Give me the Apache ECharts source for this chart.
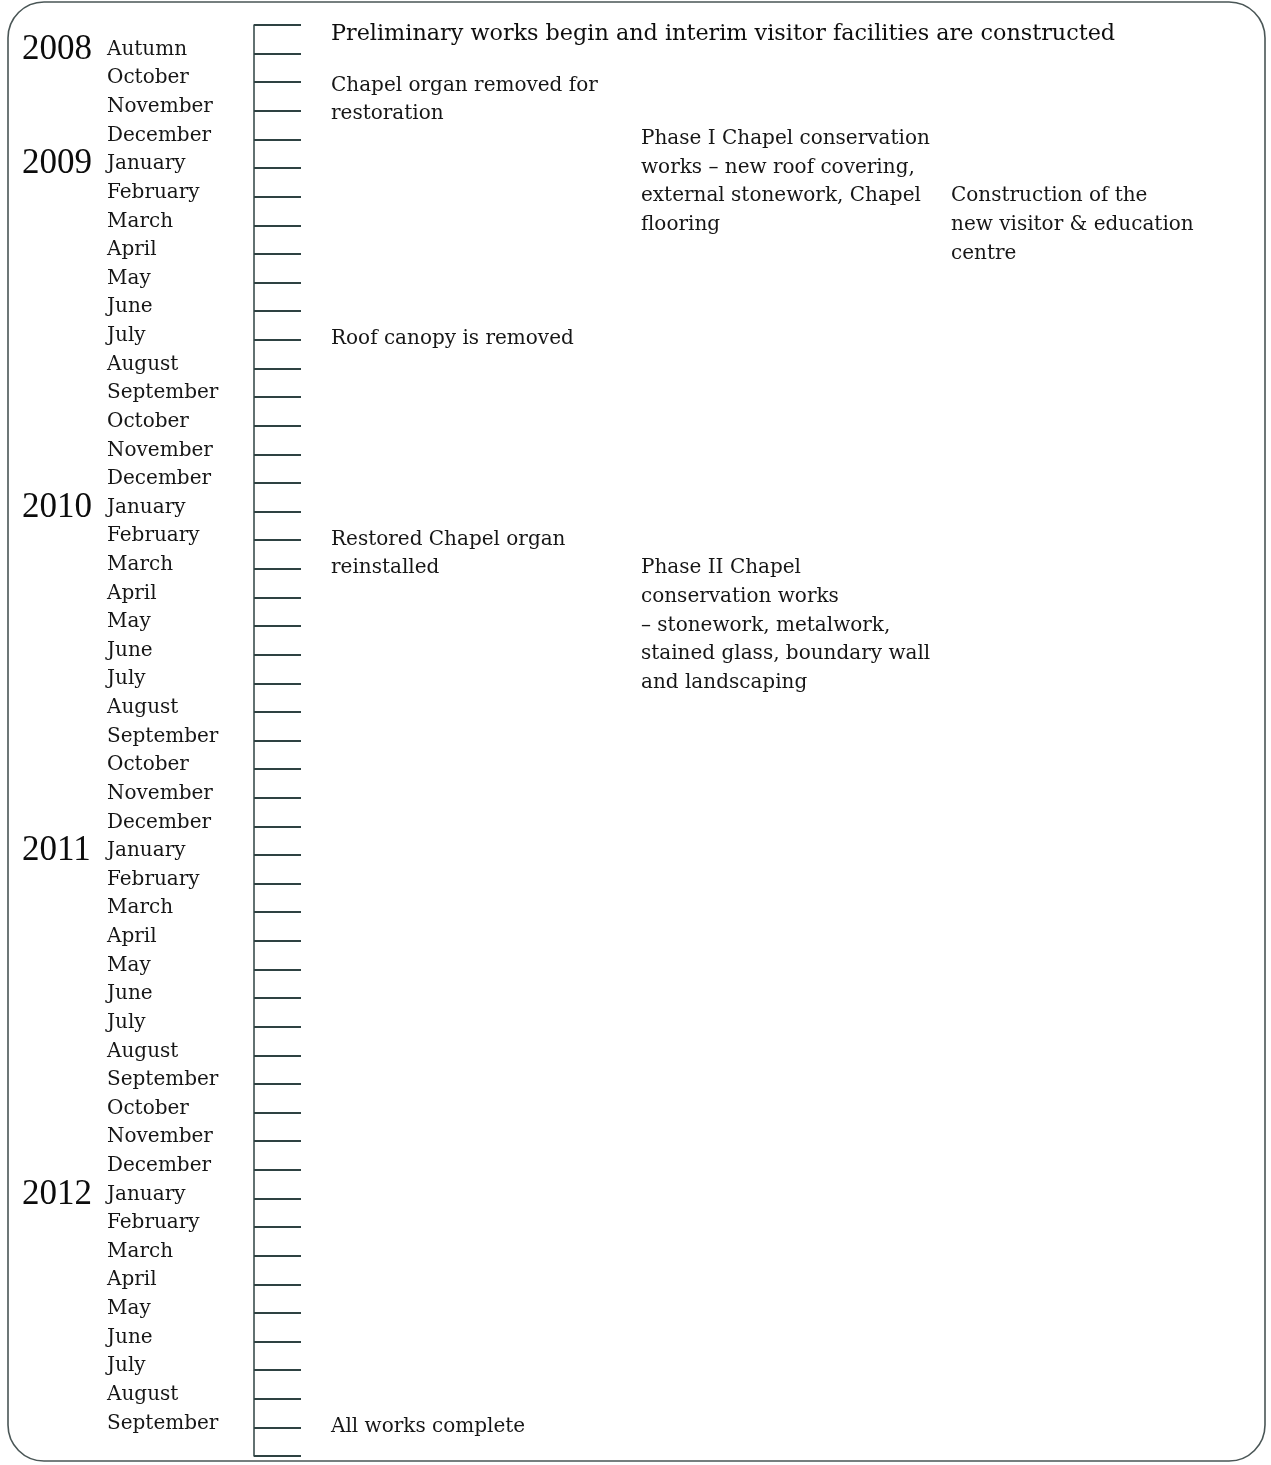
<!DOCTYPE html>
<html>
<head>
<meta charset="utf-8">
<script src="https://cdn.jsdelivr.net/npm/echarts/dist/echarts.min.js"></script>
<style>
html,body{margin:0;padding:0;background:#fff;}
#chart{width:1271px;height:1465px;}
</style>
</head>
<body>
<div id="chart"></div>
<script>
// ---- data ----
const months = [
  'Autumn','October','November','December',
  'January','February','March','April','May','June','July','August','September','October','November','December',
  'January','February','March','April','May','June','July','August','September','October','November','December',
  'January','February','March','April','May','June','July','August','September','October','November','December',
  'January','February','March','April','May','June','July','August','September'
];
const years = ['2008','2009','2010','2011','2012'];

const eventTexts = [
  'Preliminary works begin and interim visitor facilities are constructed',
  'Chapel organ removed for\nrestoration',
  'Phase I Chapel conservation\nworks – new roof covering,\nexternal stonework, Chapel\nflooring',
  'Construction of the\nnew visitor & education\ncentre',
  'Roof canopy is removed',
  'Restored Chapel organ\nreinstalled',
  'Phase II Chapel\nconservation works\n– stonework, metalwork,\nstained glass, boundary wall\nand landscaping',
  'All works complete'
];
const eventYears  = ['2008','2008','2008','2009','2009','2010','2010','2012'];
const eventMonths = ['Autumn','October','December','February','July','February','March','September'];
const eventLanes  = [0,0,1,2,0,0,1,0];

// ---- build row index (a new year starts at each January) ----
const rowYear = [];
(function(){
  let yi = 0;
  months.forEach(function(m, i){
    if (i > 0 && m === 'January') yi++;
    rowYear.push(years[yi]);
  });
})();
const yearLabelRow = {};
rowYear.forEach(function(y, i){ if (!(y in yearLabelRow)) yearLabelRow[y] = i; });
function rowOf(y, m){
  for (let i = 0; i < months.length; i++) if (rowYear[i] === y && months[i] === m) return i;
  return 0;
}

const serif = '"DejaVu Serif", serif';
const textColor = '#161616';
const lineCol = '#2e4242';

const eventData = eventTexts.map(function(t, i){
  const item = { value: [eventLanes[i], rowOf(eventYears[i], eventMonths[i])] };
  if (i === 0) item.label = { position: [77, -34], fontSize: 22.3, color: '#0e0e0e' };
  if (i === 1) item.label = { position: [77, -11] };
  return item;
});

const chart = echarts.init(document.getElementById('chart'), null, {renderer:'canvas'});
chart.setOption({
  animation: false,
  backgroundColor: '#ffffff',
  graphic: [{
    type: 'rect',
    shape: { x: 8, y: 2, width: 1257, height: 1459, r: 36 },
    style: { fill: 'none', stroke: '#4a5656', lineWidth: 1.6 },
    silent: true, z: -1
  }],
  grid: { left: 254, right: 87, top: 25, bottom: 9, containLabel: false },
  xAxis: { type: 'value', min: 0, max: 3, show: false },
  yAxis: {
    type: 'value', inverse: true, min: -1, max: months.length, interval: 1,
    axisLine: { show: true, lineStyle: { color: lineCol, width: 1.5 } },
    axisTick: { show: true, inside: true, length: 47, lineStyle: { color: lineCol, width: 2.2 } },
    splitLine: { show: false },
    axisLabel: {
      show: true, align: 'left', margin: 232, verticalAlign: 'middle',
      padding: [0, 0, 8, 0],
      formatter: function(v){
        if (v < 0 || v >= months.length) return '';
        const y = rowYear[v];
        const yr = (yearLabelRow[y] === v) ? '{y|' + y + '}' : '{e| }';
        return yr + '{m|' + months[v] + '}';
      },
      rich: {
        y: { width: 85, fontFamily: '"Liberation Serif", serif', fontSize: 35, color: '#0c0c0c', verticalAlign: 'middle', lineHeight: 34 },
        e: { width: 85, fontSize: 20, lineHeight: 24 },
        m: { fontFamily: serif, fontSize: 20, color: textColor, verticalAlign: 'middle', lineHeight: 24 }
      }
    }
  },
  series: [{
    type: 'scatter',
    symbolSize: 0,
    silent: true,
    itemStyle: { opacity: 1 },
    data: eventData,
    label: {
      show: true,
      position: [77, -15],
      align: 'left',
      verticalAlign: 'top',
      fontFamily: serif,
      fontSize: 20,
      lineHeight: 28.7,
      color: textColor,
      opacity: 1,
      formatter: function(p){ return eventTexts[p.dataIndex]; }
    }
  }]
});
</script>
</body>
</html>
